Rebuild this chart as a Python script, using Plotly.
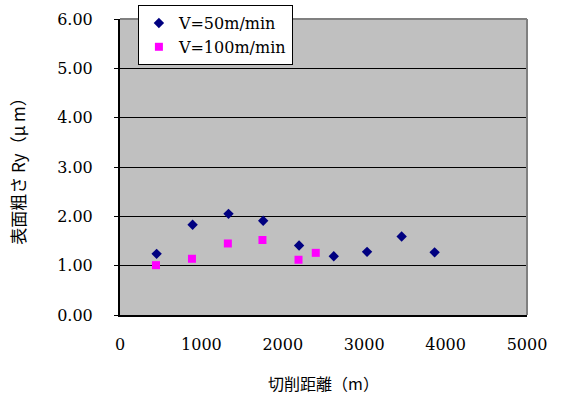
import plotly.graph_objects as go

# Data
dist_50 = [450, 892, 1333, 1759, 2200, 2626, 3035, 3460, 3865]
ry_50 = [1.24, 1.83, 2.05, 1.91, 1.41, 1.19, 1.28, 1.59, 1.27]
dist_100 = [442, 884, 1325, 1750, 2193, 2405]
ry_100 = [1.01, 1.14, 1.45, 1.52, 1.12, 1.26]

x_ticks = [0, 1000, 2000, 3000, 4000, 5000]
y_ticks = [0, 1, 2, 3, 4, 5, 6]
y_tick_labels = ["0.00", "1.00", "2.00", "3.00", "4.00", "5.00", "6.00"]

FONT = "DejaVu Serif, Noto Sans CJK JP, serif"
TITLE_FONT = "Noto Sans CJK JP, DejaVu Serif, serif"

fig = go.Figure()
fig.add_trace(go.Scatter(
    x=dist_50, y=ry_50, mode="markers", name="V=50m/min",
    marker=dict(symbol="diamond", size=8, color="#000080"),
))
fig.add_trace(go.Scatter(
    x=dist_100, y=ry_100, mode="markers", name="V=100m/min",
    marker=dict(symbol="square", size=8, color="#FF00FF"),
))

fig.update_layout(
    width=561, height=407,
    margin=dict(l=120, r=34, t=19, b=92, pad=0, autoexpand=False),
    paper_bgcolor="white",
    plot_bgcolor="#C0C0C0",
    font=dict(family=FONT, size=16, color="black"),
    showlegend=True,
    legend=dict(
        x=0.044, y=1.047, xanchor="left", yanchor="top",
        bgcolor="white", bordercolor="black", borderwidth=1,
        font=dict(family=FONT, size=16, color="black"),
        itemwidth=30, tracegroupgap=0,
    ),
    xaxis=dict(
        range=[0, 5000], tickvals=x_ticks, showgrid=False, zeroline=False,
        showline=True, linecolor="black", linewidth=2,
        ticks="outside", ticklen=0, ticklabelstandoff=14,
        tickfont=dict(family=FONT, size=16),
        title=dict(text="切削距離（m）", font=dict(family=TITLE_FONT, size=16), standoff=26),
    ),
    yaxis=dict(
        range=[0, 6], tickvals=y_ticks, ticktext=y_tick_labels,
        showgrid=True, gridcolor="black", gridwidth=1, zeroline=False,
        showline=True, linecolor="black", linewidth=2,
        ticks="outside", ticklen=4, tickcolor="black", ticklabelstandoff=18,
        tickfont=dict(family=FONT, size=16),
        title=dict(text="表面粗さ Ry（μ m）", font=dict(family=TITLE_FONT, size=17), standoff=27),
    ),
    shapes=[
        dict(type="line", xref="paper", yref="paper", x0=0, x1=1, y0=1, y1=1,
             line=dict(color="#808080", width=2), layer="above"),
        dict(type="line", xref="paper", yref="paper", x0=1, x1=1, y0=0, y1=1,
             line=dict(color="#808080", width=2), layer="above"),
    ],
)

fig.write_html("out.html")
